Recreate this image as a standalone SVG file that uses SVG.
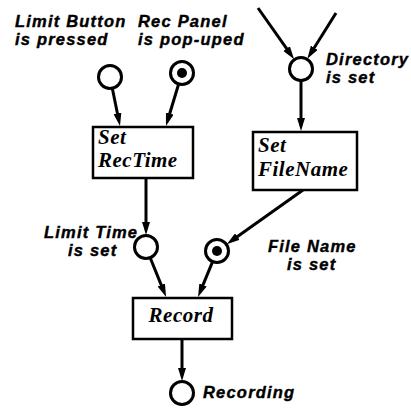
<svg xmlns="http://www.w3.org/2000/svg" width="411" height="408" viewBox="0 0 411 408">
<style>
.place{fill:#fff;stroke:#000;stroke-width:3}
.token{fill:#000}
.trans{fill:#fff;stroke:#000;stroke-width:2.5}
.lbl{font-family:"Liberation Sans",Arial,sans-serif;font-weight:bold;font-style:italic;font-size:16.5px;letter-spacing:1.2px;fill:#000;stroke:#000;stroke-width:0.4}
.tl{font-family:"Liberation Serif","Times New Roman",serif;font-weight:bold;font-style:italic;font-size:21px;letter-spacing:0.5px;fill:#000}
.arc{fill:none;stroke:#000;stroke-width:3;marker-end:url(#ah)}
</style>
<defs>
<marker id="ah" markerUnits="userSpaceOnUse" markerWidth="13" markerHeight="8" viewBox="0 0 13 8" refX="5" refY="4" orient="auto">
<path d="M0,0 L13,4 L0,8 z" fill="#000"/>
</marker>
</defs>
<rect width="411" height="408" fill="#fff"/>
<g id="connectors">
<line class="arc" x1="112.4" y1="88.8" x2="118.4" y2="118.2"/>
<line class="arc" x1="178.5" y1="84.5" x2="168.3" y2="118.3"/>
<line class="arc" x1="258" y1="8" x2="289.5" y2="52.7"/>
<line class="arc" x1="336" y1="13" x2="311.6" y2="52"/>
<line class="arc" x1="301" y1="81" x2="301" y2="123"/>
<line class="arc" x1="146" y1="178" x2="146" y2="227"/>
<line class="arc" x1="303" y1="190" x2="233.3" y2="239.5"/>
<line class="arc" x1="150.4" y1="258.2" x2="163.1" y2="289.6"/>
<line class="arc" x1="212.4" y1="262.1" x2="201.1" y2="289.6"/>
<line class="arc" x1="182" y1="340" x2="182" y2="373"/>
</g>
<g id="p_limit_button">
<circle class="place" cx="110" cy="77" r="11.5"/>
<text class="lbl" x="15" y="27">Limit Button</text>
<text class="lbl" x="15" y="45">is pressed</text>
</g>
<g id="p_rec_panel">
<circle class="place" cx="182" cy="73" r="11.5"/>
<circle class="token" cx="182" cy="73" r="5"/>
<text class="lbl" x="138" y="27">Rec Panel</text>
<text class="lbl" x="138" y="45">is pop-uped</text>
</g>
<g id="p_directory">
<circle class="place" cx="301" cy="69" r="11.5"/>
<text class="lbl" x="326" y="65">Directory</text>
<text class="lbl" x="326" y="83">is set</text>
</g>
<g id="t_set_rectime">
<rect class="trans" x="93" y="127" width="100" height="51"/>
<text class="tl" x="98" y="144">Set</text>
<text class="tl" x="98" y="167">RecTime</text>
</g>
<g id="t_set_filename">
<rect class="trans" x="253" y="132" width="104" height="58"/>
<text class="tl" x="258" y="152">Set</text>
<text class="tl" x="258" y="176">FileName</text>
</g>
<g id="p_limit_time">
<circle class="place" cx="146" cy="247" r="11.5"/>
<text class="lbl" x="44" y="238">Limit Time</text>
<text class="lbl" x="68" y="256">is set</text>
</g>
<g id="p_file_name">
<circle class="place" cx="217" cy="251" r="11.5"/>
<circle class="token" cx="217" cy="251" r="5"/>
<text class="lbl" x="268" y="252">File Name</text>
<text class="lbl" x="287" y="270">is set</text>
</g>
<g id="t_record">
<rect class="trans" x="133" y="298" width="99" height="41"/>
<text class="tl" x="181" y="322" text-anchor="middle">Record</text>
</g>
<g id="p_recording">
<circle class="place" cx="182" cy="393" r="11.5"/>
<text class="lbl" x="203" y="398">Recording</text>
</g>
</svg>
